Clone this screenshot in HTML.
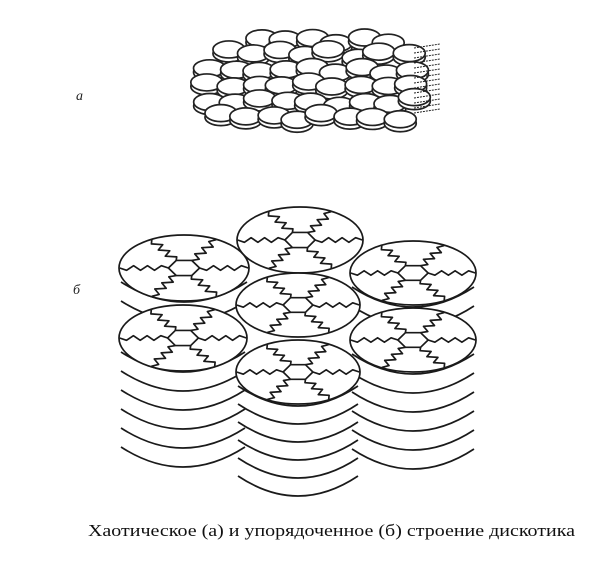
<!DOCTYPE html>
<html><head><meta charset="utf-8"><style>
html,body{margin:0;padding:0;background:#fff;width:600px;height:574px;overflow:hidden}
svg{display:block}
</style></head><body>
<svg id="s" width="600" height="574" viewBox="0 0 600 574" xmlns="http://www.w3.org/2000/svg">
<g id="tg" stroke="#222" stroke-width="1.7" fill="#fff"></g>
<g id="bg" stroke="#1a1a1a" stroke-width="1.7" fill="#fff" stroke-linejoin="round"></g>
<text x="76" y="100" font-family="Liberation Serif, serif" font-style="italic" font-size="14" fill="#222">a</text>
<text x="73" y="294" font-family="Liberation Serif, serif" font-style="italic" font-size="14" fill="#222">б</text>
<text x="88" y="536" textLength="487" lengthAdjust="spacingAndGlyphs" font-family="Liberation Serif, serif" font-size="17" fill="#111">Хаотическое (а) и упорядоченное (б) строение дискотика</text>
</svg>
<script>
(function(){
var NS="http://www.w3.org/2000/svg";
function el(p,n,a){var e=document.createElementNS(NS,n);for(var k in a)e.setAttribute(k,a[k]);p.appendChild(e);return e;}
var seed=7;function rnd(){seed=(seed*9301+49297)%233280;return seed/233280;}
var tg=document.getElementById('tg');
var rows=[[262,38,6],[228,52,8],[210,68,9],[207,84,9],[210,100,9],[222,114,8]];
for(var r=0;r<rows.length;r++){
 var x0=rows[r][0],y=rows[r][1],n=rows[r][2];
 for(var i=0;i<n;i++){
  var cx=x0+i*25.5+rnd()*6-3, cy=y+rnd()*6-3+(i%2)*3;
  if(cx>425)continue;
  el(tg,'ellipse',{cx:cx,cy:cy+4,rx:16,ry:8.5});
  el(tg,'ellipse',{cx:cx,cy:cy,rx:16,ry:8.5});
 }
}
for(var i=0;i<14;i++){var yy=48+i*5;el(tg,'line',{x1:414,y1:yy,x2:440,y2:yy-4,'stroke-width':1,'stroke-dasharray':'2 1'});}
var bg=document.getElementById('bg');
function arcs(cx,cy,rx,n,sp){
 for(var k=1;k<=n;k++){var y=cy+14+(k-1)*sp;
  el(bg,'path',{d:'M'+(cx-rx+2)+' '+y+' Q'+cx+' '+(y+40)+' '+(cx+rx-2)+' '+y,fill:'none'});}
}
function disc(cx,cy,rx,ry){
 el(bg,'ellipse',{cx:cx,cy:cy,rx:rx,ry:ry});
 var hx=0.24,pts=[];
 for(var i=0;i<6;i++){var a=i*Math.PI/3;pts.push([cx+Math.cos(a)*rx*hx,cy+Math.sin(a)*ry*hx*1.1]);}
 el(bg,'polygon',{points:pts.map(function(p){return p.join(',')}).join(' '),fill:'none'});
 for(var i=0;i<6;i++){var a=i*Math.PI/3;var c=Math.cos(a),s=Math.sin(a);
  var d='M'+pts[i][0]+' '+pts[i][1];
  var N=7;
  for(var j=1;j<=N;j++){var t=hx+(0.99-hx)*j/N;var z=(j%2?0.07:-0.07);if(j==N)z=0;
   var px=cx+(c*t - s*z)*rx, py=cy+(s*t + c*z)*ry;d+=' L'+px.toFixed(1)+' '+py.toFixed(1);}
  el(bg,'path',{d:d,fill:'none'});}
}
disc(300,240,63,33);
arcs(184,268,65,2,19);disc(184,268,65,33);
arcs(413,273,63,2,19);disc(413,273,63,32);
disc(298,305,62,32);
arcs(183,338,64,6,19);disc(183,338,64,33);
arcs(413,340,63,6,19);disc(413,340,63,32);
arcs(298,372,62,6,18);disc(298,372,62,32);
})();
</script>
</body></html>
